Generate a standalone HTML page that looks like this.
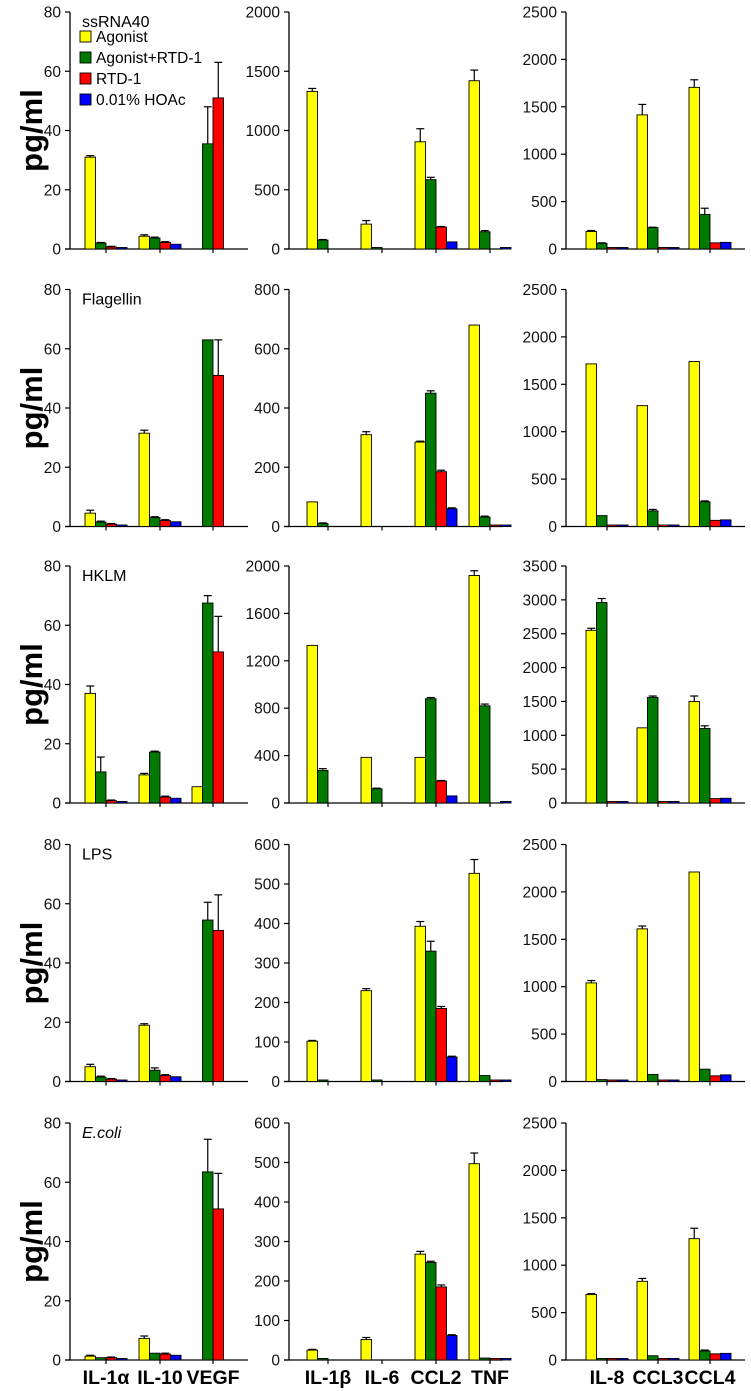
<!DOCTYPE html>
<html><head><meta charset="utf-8"><style>
html,body{margin:0;padding:0;background:#fff;}
svg{display:block;font-family:"Liberation Sans",Arial,sans-serif;}
</style></head><body>
<svg id="chart" width="751" height="1391" viewBox="0 0 751 1391" xmlns="http://www.w3.org/2000/svg"></svg>
<script>
// ---- data ----
const rowLabels = ["ssRNA40","Flagellin","HKLM","LPS","E.coli"];
const seriesNames = ["Agonist","Agonist+RTD-1","RTD-1","0.01% HOAc"];
const colCats = [["IL-1α","IL-10","VEGF"],["IL-1β","IL-6","CCL2","TNF"],["IL-8","CCL3","CCL4"]];
const leftMax = [80,80,80,80,80];
const midMax = [2000,800,2000,600,600];
const rightMax = [2500,2500,3500,2500,2500];
const leftStep = [20,20,20,20,20];
const midStep = [500,200,400,100,100];
const rightStep = [500,500,500,500,500];
// values[row][series][category]
const leftVals = [
 [[31,4.3,0],[2,3.7,35.5],[0.7,2.2,51],[0.3,1.6,0]],
 [[4.5,31.5,0],[1.5,3,63],[0.8,2,51],[0.3,1.6,0]],
 [[37,9.5,5.5],[10.5,17.2,67.5],[0.8,2,51],[0.3,1.6,0]],
 [[5,19,0],[1.5,3.8,54.5],[0.8,2,51],[0.3,1.6,0]],
 [[1.3,7.3,0],[0.8,2.3,63.5],[0.8,2,51],[0.3,1.6,0]]
];
const leftErr = [
 [[0.5,0.5,0],[0.2,0.3,12.5],[0.2,0.3,12],[0,0,0]],
 [[1,1,0],[0.3,0.3,0],[0.2,0.3,12],[0,0,0]],
 [[2.5,0.5,0],[5,0.3,2.5],[0.2,0.3,12],[0,0,0]],
 [[0.8,0.5,0],[0.3,0.8,6],[0.2,0.3,12],[0,0,0]],
 [[0.3,0.8,0],[0,0,11],[0.2,0.3,12],[0,0,0]]
];
const midVals = [
 [[1330,210,905,1420],[75,5,585,145],[0,0,185,0],[0,0,60,5]],
 [[83,310,285,680],[10,0,450,32],[0,0,185,2],[0,0,60,5]],
 [[1330,385,385,1920],[275,120,880,820],[0,0,185,0],[0,0,60,5]],
 [[102,230,393,527],[3,2,330,15],[0,0,185,2],[0,0,62,3]],
 [[25,52,268,497],[2,0,247,5],[0,0,185,2],[0,0,62,3]]
];
const midErr = [
 [[25,30,110,90],[5,0,20,10],[0,0,5,0],[0,0,0,0]],
 [[0,10,3,0],[2,0,8,3],[0,0,5,0],[0,0,3,0]],
 [[0,0,0,40],[15,5,10,15],[0,0,5,0],[0,0,0,0]],
 [[2,5,12,35],[0,0,25,0],[0,0,5,0],[0,0,2,0]],
 [[2,5,7,27],[0,0,3,0],[0,0,5,0],[0,0,2,0]]
];
const rightVals = [
 [[185,1415,1705],[60,225,365],[8,10,65],[8,10,70]],
 [[1715,1275,1740],[115,165,260],[5,10,65],[5,10,70]],
 [[2550,1110,1500],[2960,1560,1100],[10,10,65],[10,10,70]],
 [[1040,1610,2210],[20,75,130],[5,10,60],[5,10,70]],
 [[690,830,1280],[5,45,95],[5,10,65],[5,10,70]]
];
const rightErr = [
 [[10,110,80],[5,5,65],[0,0,0],[0,0,0]],
 [[0,0,0],[0,15,10],[0,0,0],[0,0,0]],
 [[30,0,80],[60,20,40],[0,0,0],[0,0,0]],
 [[25,30,0],[0,0,0],[0,0,0],[0,0,0]],
 [[10,30,110],[0,0,10],[0,0,0],[0,0,0]]
];
// ---- layout ----
const colors = ["#ffff00","#007a00","#ff0000","#0000ff"];
const rowTops = [12,289.5,566,844.5,1123];
const plotH = 237;
const cols = [
 {ax:70, end:248, centers:[106,160,213], max:leftMax, step:leftStep, vals:leftVals, err:leftErr},
 {ax:289, end:503, centers:[328,382,436,490], max:midMax, step:midStep, vals:midVals, err:midErr},
 {ax:566, end:745, centers:[607,658,710], max:rightMax, step:rightStep, vals:rightVals, err:rightErr}
];
const NS="http://www.w3.org/2000/svg";
const svg=document.getElementById('chart');
function mk(tag,attrs,parent){const e=document.createElementNS(NS,tag);for(const k in attrs)e.setAttribute(k,attrs[k]);(parent||svg).appendChild(e);return e;}
const bw=10.5;
rowLabels.forEach((lbl,r)=>{
  const top=rowTops[r], zero=top+plotH;
  const yl=mk('text',{x:0,y:0,'font-size':31,'font-weight':'bold','text-anchor':'middle',transform:`translate(42,${top+plotH/2}) rotate(-90)`});
  yl.textContent='pg/ml';
  
  
  cols.forEach((c,ci)=>{
    const g=mk('g',{});
    
    
    const max=c.max[r], step=c.step[r];
    const y=v=>zero-v/max*plotH;
    const ya=mk('line',{x1:c.ax,y1:top,x2:c.ax,y2:zero,stroke:'#000','stroke-width':1.3},g);
    
    
    const xa=mk('line',{x1:c.ax-5,y1:zero,x2:c.end,y2:zero,stroke:'#000','stroke-width':1.3},g);
    
    
    for(let v=0;v<=max+1e-9;v+=step){
      mk('line',{x1:c.ax-5,y1:y(v),x2:c.ax,y2:y(v),stroke:'#000','stroke-width':1.2},g);
      const t=mk('text',{x:c.ax-9,y:y(v)+5.5,'font-size':15.5,'text-anchor':'end',fill:'#111'},g);
      t.textContent=v;
      
      
    }
    c.centers.forEach((cx,k)=>{
      mk('line',{x1:cx,y1:zero,x2:cx,y2:zero+4,stroke:'#000','stroke-width':1.2},g);
      for(let s=0;s<4;s++){
        const v=c.vals[r][s][k]; if(v<=0) continue;
        const x0=cx-2*bw+s*bw;
        const e=c.err[r][s][k];
        if(e>0){
          mk('line',{x1:x0+bw/2,y1:y(v),x2:x0+bw/2,y2:y(v+e),stroke:'#000','stroke-width':1.2},g);
          mk('line',{x1:x0+bw/2-4,y1:y(v+e),x2:x0+bw/2+4,y2:y(v+e),stroke:'#000','stroke-width':1.2},g);
        }
        const h=Math.max(zero-y(v),1.5);
        const b=mk('rect',{x:x0,y:zero-h,width:bw,height:h,fill:colors[s],stroke:'#000','stroke-width':0.9},g);
        
        
      }
      if(r===4){
        const xl=mk('text',{x:cx,y:1384,'font-size':19.5,'font-weight':'bold','text-anchor':'middle'},g);
        xl.textContent=colCats[ci][k];
        
        
      }
    });
  });
  const rl=mk('text',{x:82,y:top+15,'font-size':16,'font-style':r===4?'italic':'normal'});
  rl.textContent=lbl;
  
  
});
const legYs=[42,63,84,105];
seriesNames.forEach((n,i)=>{
  const sq=mk('rect',{x:80,y:legYs[i]-11,width:11,height:11,fill:colors[i],stroke:'#000','stroke-width':0.9});
  
  
  const t=mk('text',{x:96,y:legYs[i],'font-size':15.5});
  t.textContent=n;
  
  
});
</script>
</body></html>
